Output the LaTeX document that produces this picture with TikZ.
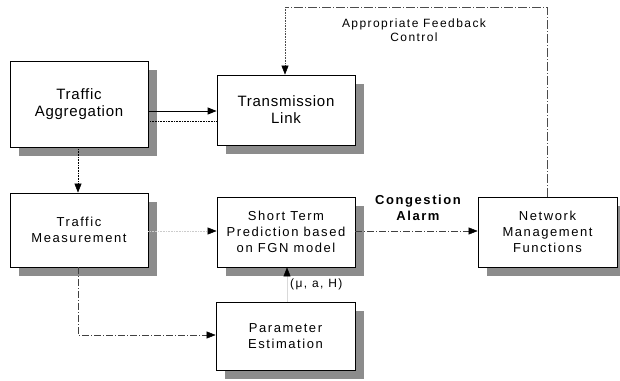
\documentclass[tikz,border=0pt]{standalone}
\usepackage{fontspec}
\newfontfamily\diagfont[LetterSpace=12]{Liberation Sans}
\usepackage{tikz}
\usetikzlibrary{positioning,arrows.meta,shadows,calc}
\tikzset{
  blk/.style  ={rectangle, draw=black, line width=0.8pt, fill=white, align=center,
                inner sep=0pt, minimum width=138pt, minimum height=70pt,
                drop shadow={shadow xshift=9pt, shadow yshift=-9pt, fill=black!45, opacity=1}},
  bigtxt/.style={font=\diagfont\addfontfeatures{LetterSpace=5}\fontsize{15}{17}\selectfont},
  midtxt/.style={font=\diagfont\fontsize{13}{16}\selectfont},
  lbl/.style  ={font=\diagfont\fontsize{12}{14.5}\selectfont, align=center, inner sep=1pt},
  tip/.style  ={-{Triangle[length=9pt,width=7pt,color=black]}},
  arr/.style  ={tip, line width=0.9pt},
  dotarr/.style={tip, densely dotted, line width=0.6pt},
  dasharr/.style={tip, line width=0.5pt, black!75,
                dash pattern=on 7pt off 2pt on 1pt off 2pt},
  fbline/.style={line width=0.5pt, black!70, dash pattern=on 9pt off 2pt on 1pt off 2pt},
}

\begin{document}
\begin{tikzpicture}[x=1pt,y=-1pt]
  \useasboundingbox (0,0) rectangle (620,380);
  % row 1
  \node[blk, bigtxt, minimum height=86pt] (agg) at (79,104) {Traffic\\Aggregation};
  \node[blk, bigtxt] (link) at (286,110) {Transmission\\Link};
  % row 2
  \node[blk, midtxt, minimum height=74pt] (meas) at (79,230) {Traffic\\Measurement};
  \node[blk, midtxt] (pred) at (286,232) {Short Term\\Prediction based\\on FGN model};
  \node[blk, midtxt, minimum width=139pt] (netm) at (547.5,232) {Network\\Management\\Functions};
  % row 3
  \node[blk, midtxt, minimum width=139pt, minimum height=68pt] (param) at (285.5,336) {Parameter\\Estimation};
  % labels
  \node[lbl] (fbtxt) at (414,30) {Appropriate Feedback\\Control};
  \node[lbl, font=\diagfont\bfseries\fontsize{13}{16}\selectfont] (alarm) at (418,208) {Congestion\\Alarm};
  \node[lbl, anchor=west] (parms) at (289,284) {(μ, a, H)};
  \coordinate (fbr) at (547,7);
  \coordinate (fbl) at (285,7);
  % connectors
  \draw[arr] (agg.east |- 0,111) -- (link.west |- 0,111);
  \draw[densely dotted, line width=0.6pt] (agg.east |- 0,121) -- (link.west |- 0,121);
  \draw[dotarr] (agg.south -| 78,0) -- (meas.north -| 78,0);
  \draw[dotarr, black!20] (meas.east |- 0,231) -- (pred.west |- 0,231);
  \draw[dasharr] (meas.south -| 78,0) |- (param.west |- 0,335);
  \draw[tip, line width=0.4pt, black!15] (param.north -| 287,0) -- (pred.south -| 287,0);
  \draw[dasharr] (pred.east |- 0,231) -- (netm.west |- 0,231);
  \draw[fbline] (netm.north -| fbr) -- (fbr) -- (fbl);
  \draw[dotarr, black!70] (fbl) -- (link.north -| fbl);
\end{tikzpicture}
\end{document}
